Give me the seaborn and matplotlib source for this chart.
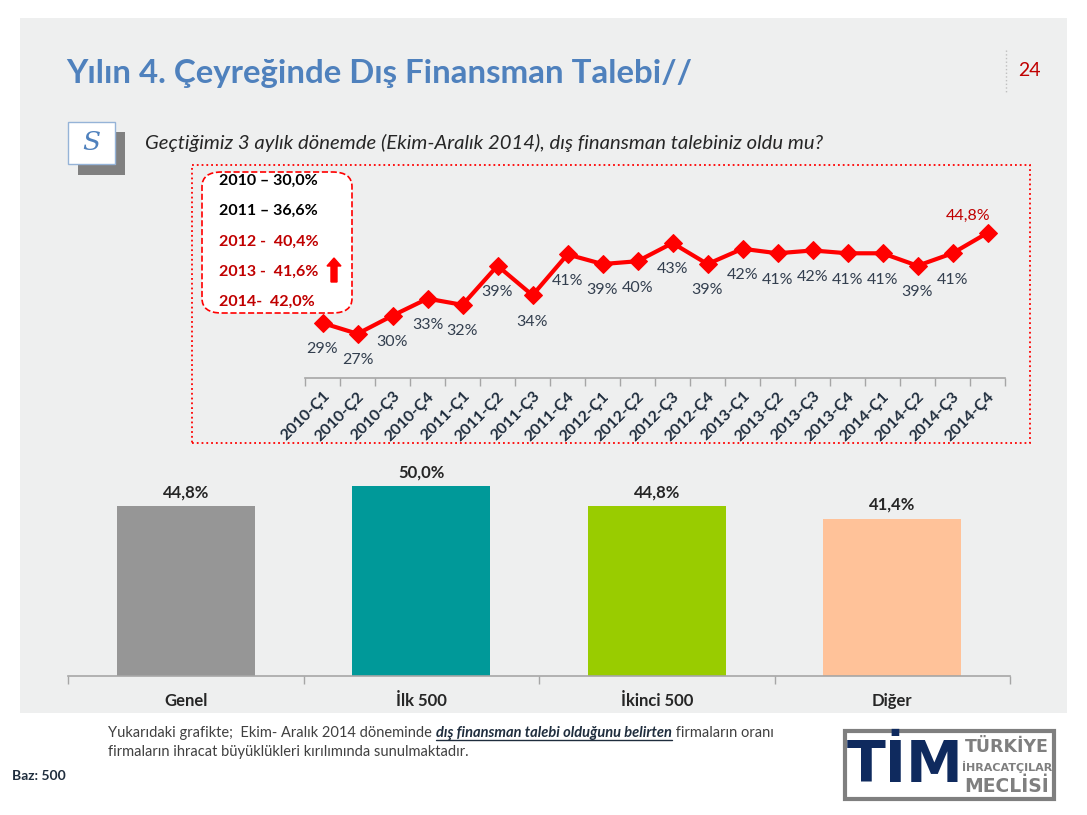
import matplotlib
matplotlib.use("Agg")
import matplotlib.pyplot as plt
import seaborn as sns
import numpy as np
from matplotlib.patches import Rectangle, FancyBboxPatch, FancyArrow
from matplotlib.lines import Line2D

# Quarterly share of firms with external financing demand (%)
quarters = ['2010-Ç1', '2010-Ç2', '2010-Ç3', '2010-Ç4', '2011-Ç1', '2011-Ç2', '2011-Ç3', '2011-Ç4',
            '2012-Ç1', '2012-Ç2', '2012-Ç3', '2012-Ç4', '2013-Ç1', '2013-Ç2', '2013-Ç3', '2013-Ç4',
            '2014-Ç1', '2014-Ç2', '2014-Ç3', '2014-Ç4']
demand = [28.9, 27.0, 30.2, 33.2, 32.1, 39.0, 33.8, 41.0, 39.3, 39.8, 43.0, 39.3,
          42.0, 41.2, 41.7, 41.2, 41.2, 39.0, 41.2, 44.8]

# Yearly averages shown in the box
years = ['2010', '2011', '2012', '2013', '2014']
year_avg = ['30,0%', '36,6%', '40,4%', '41,6%', '42,0%']

# Bar chart by export size
groups = ['Genel', 'İlk 500', 'İkinci 500', 'Diğer']
shares = [44.8, 50.0, 44.8, 41.4]
bar_colors = ['#969696', '#009999', '#99CC00', '#FFC299']

W, H = 1087, 815
sns.set_theme(style="white")
plt.rcParams['font.family'] = ['Lato', 'DejaVu Sans']

fig = plt.figure(figsize=(W / 100, H / 100), dpi=100)
fig.patch.set_facecolor('white')


def fx(x):
    return x / W


def fy(y):
    return 1 - y / H


# grey slide panel
fig.patches.append(Rectangle((fx(20), fy(713)), fx(1067) - fx(20), fy(18) - fy(713),
                             transform=fig.transFigure, fc='#EEEFEF', ec='none', zorder=-5))

# title and page number
fig.text(fx(66), fy(74), 'Yılın 4. Çeyreğinde Dış Finansman Talebi//', fontsize=23.8, fontweight='bold',
         color='#4F81BD', va='center', ha='left')
fig.text(fx(1029), fy(71), '24', fontsize=14, color='#C00000', va='center', ha='center')
fig.lines.append(Line2D([fx(1006), fx(1006)], [fy(50), fy(92)], transform=fig.transFigure,
                        color='#BFBFBF', lw=1, ls=':'))

# question marker
fig.patches.append(Rectangle((fx(78), fy(175)), fx(47), fy(132) - fy(175), transform=fig.transFigure,
                             fc='#808080', ec='none'))
fig.patches.append(Rectangle((fx(68), fy(164)), fx(47), fy(122) - fy(164), transform=fig.transFigure,
                             fc='white', ec='#95B3D7', lw=1))
fig.text(fx(91), fy(143), 'S', fontsize=19, style='italic', family='DejaVu Serif', color='#4F81BD',
         ha='center', va='center')
fig.text(fx(145), fy(143), 'Geçtiğimiz 3 aylık dönemde (Ekim-Aralık 2014), dış finansman talebiniz oldu mu?',
         fontsize=14.6, style='italic', color='#262626', ha='left', va='center')

# dotted frame around the line chart
fig.patches.append(Rectangle((fx(192), fy(443)), fx(1030) - fx(192), fy(165) - fy(443),
                             transform=fig.transFigure, fc='none', ec='#FF0000', lw=1.3, ls=':'))

# ---- line chart ----
ax1 = fig.add_axes([fx(305), fy(378), fx(1005) - fx(305), fy(200) - fy(378)])
ax1.set_facecolor('none')
ax1.set_zorder(2)
sns.lineplot(x=quarters, y=demand, color='#FF0000', lw=3, marker='D', markersize=9,
             markeredgecolor='#FF0000', ax=ax1)
ax1.set_xlim(-0.5, len(quarters) - 0.5)
ax1.set_ylim(19.2, 50.6)
for s in ['top', 'right', 'left']:
    ax1.spines[s].set_visible(False)
ax1.spines['bottom'].set_color('#A6A6A6')
ax1.spines['bottom'].set_linewidth(1.2)
ax1.set_yticks([])
ax1.set_xticks(range(len(quarters)))
ax1.set_xticklabels(quarters, rotation=45, ha='right', rotation_mode='anchor',
                    fontsize=11.5, fontweight='bold', color='#1F2D3D')
ax1.set_xticks(np.arange(-0.5, len(quarters), 1), minor=True)
ax1.tick_params(axis='x', which='major', length=0, pad=8)
ax1.tick_params(axis='x', which='minor', length=6, color='#A6A6A6', width=1, bottom=True)
ax1.set_xlabel('')
ax1.set_ylabel('')
for i, v in enumerate(demand):
    if i == len(demand) - 1:
        ax1.annotate(f'{v:.1f}%'.replace('.', ','), (i, v), xytext=(-14, 7), textcoords='offset points',
                     ha='center', va='bottom', fontsize=11.5, color='#C00000')
    else:
        ax1.annotate(f'{round(v)}%', (i, v), xytext=(0, -19), textcoords='offset points',
                     ha='center', va='center', fontsize=11.5, color='#333F4F')

# yearly average box
fig.patches.append(FancyBboxPatch((fx(202), fy(313)), fx(352) - fx(202), fy(172) - fy(313),
                                  boxstyle='round,pad=0,rounding_size=0.018', transform=fig.transFigure,
                                  fc='white', ec='#FF0000', lw=1.2, ls='--'))
for k, (yr, avg) in enumerate(zip(years, year_avg)):
    yy = 181 + k * 30.2
    if k < 2:
        label, col = f'{yr} – {avg}', 'black'
    elif k < 4:
        label, col = f'{yr} -  {avg}', '#C00000'
    else:
        label, col = f'{yr}-  {avg}', '#C00000'
    fig.text(fx(219), fy(yy), label, fontsize=11.5, fontweight='bold', color=col, ha='left', va='center')
fig.patches.append(FancyArrow(fx(334), fy(282), 0, fy(258) - fy(282),
                              width=fx(6), head_width=fx(14), head_length=fy(258) - fy(266),
                              length_includes_head=True, transform=fig.transFigure,
                              fc='#FF0000', ec='#FF0000'))

# ---- bar chart ----
ax2 = fig.add_axes([fx(68), fy(676), fx(1010) - fx(68), fy(460) - fy(676)])
ax2.set_facecolor('none')
ax2.set_zorder(2)
sns.barplot(x=groups, y=shares, hue=groups, palette=bar_colors, legend=False, width=0.586,
            saturation=1, edgecolor='none', linewidth=0, ax=ax2)
ax2.set_ylim(0, 56.8)
ax2.set_xlim(-0.5, len(groups) - 0.5)
for s in ['top', 'right', 'left']:
    ax2.spines[s].set_visible(False)
ax2.spines['bottom'].set_color('#A6A6A6')
ax2.spines['bottom'].set_linewidth(1.2)
ax2.set_yticks([])
ax2.set_xticks(range(len(groups)))
ax2.set_xticklabels(groups, fontsize=12, fontweight='bold', color='#262626')
ax2.set_xticks(np.arange(-0.5, len(groups), 1), minor=True)
ax2.tick_params(axis='x', which='major', length=0, pad=12)
ax2.tick_params(axis='x', which='minor', length=6, color='#A6A6A6', width=1, bottom=True)
ax2.set_xlabel('')
ax2.set_ylabel('')
for i, v in enumerate(shares):
    ax2.annotate(f'{v:.1f}%'.replace('.', ','), (i, v), xytext=(0, 4), textcoords='offset points',
                 ha='center', va='bottom', fontsize=12, fontweight='bold', color='#262626')

# ---- footer ----
renderer = fig.canvas.get_renderer()


def rich_line(x, y, parts):
    for txt, kw in parts:
        style = dict(ha='left', va='center', fontsize=10.5, color='#404040')
        style.update(kw)
        t = fig.text(fx(x), fy(y), txt, **style)
        bb = t.get_window_extent(renderer)
        if kw.get('fontweight') == 'bold':
            fig.lines.append(Line2D([bb.x0 / W, bb.x1 / W], [bb.y0 / H - 0.0005] * 2,
                                    transform=fig.transFigure, color='#1F2D3D', lw=1))
        x = bb.x1


rich_line(108, 733, [('Yukarıdaki grafikte;  Ekim- Aralık 2014 döneminde ', {}),
                     ('dış finansman talebi olduğunu belirten', dict(fontweight='bold', style='italic',
                                                                     color='#1F2D3D')),
                     (' firmaların oranı', {})])
fig.text(fx(108), fy(752), 'firmaların ihracat büyüklükleri kırılımında sunulmaktadır.', fontsize=10.5,
         color='#404040', ha='left', va='center')
fig.text(fx(12), fy(776), 'Baz: 500', fontsize=10, fontweight='bold', color='#1F2D3D', ha='left', va='center')

# logo
fig.patches.append(Rectangle((fx(845), fy(799)), fx(1054) - fx(845), fy(731) - fy(799),
                             transform=fig.transFigure, fc='white', ec='#7F7F7F', lw=3))
fig.text(fx(905), fy(767), 'TİM', fontsize=41, fontweight='bold', family='DejaVu Sans Condensed',
         color='#0F2A5E', ha='center', va='center')
for k, word in enumerate(['TÜRKİYE', 'İHRACATÇILAR', 'MECLİSİ']):
    fig.text(fx(1007), fy(747 + k * 19.5), word, fontsize=[12.5, 8, 13.5][k], fontweight='bold',
             family='DejaVu Sans Condensed', color='#7F7F7F', ha='center', va='center')

fig.savefig('out.png', dpi=100)
